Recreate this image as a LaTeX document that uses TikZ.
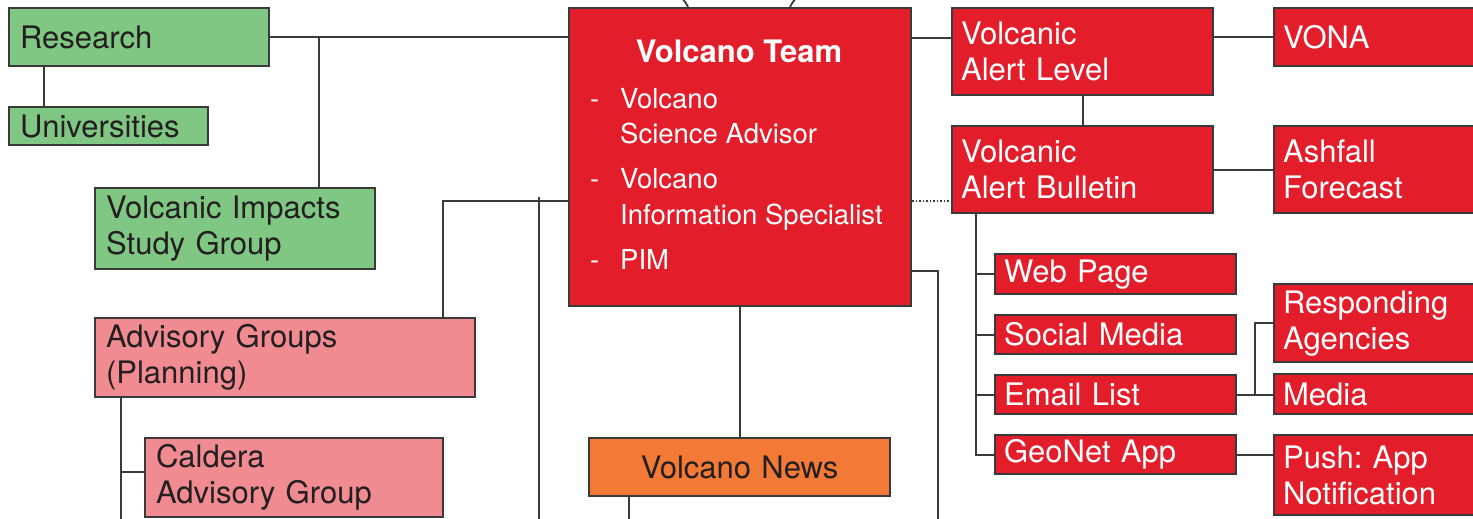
\documentclass[tikz,border=0pt]{standalone}
\usepackage{fontspec}
\setmainfont{TeX Gyre Heros}
\frenchspacing
\definecolor{edgeC}{HTML}{3A3A3A}
\definecolor{inkC}{HTML}{231F20}
\definecolor{grnC}{HTML}{80C783}
\definecolor{redC}{HTML}{E31E2A}
\definecolor{pinkC}{HTML}{F08B92}
\definecolor{orgC}{HTML}{F37A36}
\newcommand{\lbl}{\fontsize{31}{36}\selectfont}
\newcommand{\itm}{\fontsize{27.5}{35}\selectfont}
\begin{document}
\begin{tikzpicture}[x=1pt,y=-1pt,
  unit/.style={draw=edgeC, line width=2.2pt, anchor=north west, inner ysep=0pt,
    inner xsep=11pt, align=left, font=\lbl},
  greenbox/.style={unit, fill=grnC, text=inkC},
  pinkbox/.style={unit, fill=pinkC, text=inkC},
  orangebox/.style={unit, fill=orgC, text=inkC, align=center},
  redbox/.style={unit, fill=redC, text=white, inner xsep=9pt},
  link/.style={draw=edgeC, line width=1.8pt},
  dotlink/.style={draw=edgeC, line width=1.5pt, dotted}]
\useasboundingbox (0,0) rectangle (1473,519);
\clip (0,0) rectangle (1473,519);

% ---- research side ----
\node[greenbox, text width=238pt, minimum height=58pt] (research) at (8,7) {Research};
\node[greenbox, text width=177pt, minimum height=38pt] (univ) at (8,106) {Universities};
\node[greenbox, text width=258pt, minimum height=81pt] (impacts) at (94,187) {Volcanic Impacts\\Study Group};

% ---- advisory groups ----
\node[pinkbox, text width=358pt, minimum height=79pt] (advisory) at (94,317) {Advisory Groups\\(Planning)};
\node[pinkbox, text width=276pt, minimum height=79pt] (caldera) at (144,437) {Caldera\\Advisory Group};

% ---- central team ----
\node[unit, fill=redC, minimum width=342pt, minimum height=298pt] (team) at (568,7) {};
\node[anchor=base, text=white, font=\fontsize{31}{36}\selectfont\bfseries] (teamtitle) at (739,63) {Volcano Team};
\begin{scope}[every node/.style={anchor=base west, text=white, font=\itm, inner sep=0pt}]
  \node (d1) at (590,108) {-};
  \node (t1a) at (620,108) {Volcano};
  \node (t1b) at (620,143) {Science Advisor};
  \node (d2) at (590,188) {-};
  \node (t2a) at (620,188) {Volcano};
  \node (t2b) at (620,224) {Information Specialist};
  \node (d3) at (590,269) {-};
  \node (t3) at (620,269) {PIM};
\end{scope}
\node[orangebox, text width=279pt, minimum height=58pt] (news) at (588,437) {Volcano News};

% ---- alert products ----
\node[redbox, text width=243pt, minimum height=87pt] (level) at (951,7) {Volcanic\\Alert Level};
\node[redbox, text width=243pt, minimum height=87pt] (bulletin) at (951,125) {Volcanic\\Alert Bulletin};
\node[redbox, text width=202pt, minimum height=58pt] (vona) at (1273,7) {VONA};
\node[redbox, text width=202pt, minimum height=87pt] (ashfall) at (1273,125) {Ashfall\\Forecast};

% ---- channels ----
\node[redbox, text width=223pt, minimum height=40pt] (web) at (994,253) {Web Page};
\node[redbox, text width=223pt, minimum height=39pt] (social) at (994,314) {Social Media};
\node[redbox, text width=223pt, minimum height=39pt] (email) at (994,374) {Email List};
\node[redbox, text width=223pt, minimum height=39pt] (geonet) at (994,434) {GeoNet App};
\node[redbox, text width=202pt, minimum height=78pt] (responding) at (1273,283) {Responding\\Agencies};
\node[redbox, text width=202pt, minimum height=40pt] (media) at (1273,373) {Media};
\node[redbox, text width=202pt, minimum height=80pt] (push) at (1273,434) {Push: App\\Notification};

% ---- junction and free-end points ----
\coordinate (rj) at (319,37);
\coordinate (uj) at (44,0);
\coordinate (aj) at (443,201);
\coordinate (xtop) at (539,197);
\coordinate (xbot) at (539,522);
\coordinate (cj) at (121,472);
\coordinate (cbot) at (121,522);
\coordinate (nbot) at (629,522);
\coordinate (tj) at (938,271);
\coordinate (tbot) at (938,522);
\coordinate (lv) at (0,38);
\coordinate (dl) at (0,201);
\coordinate (bj) at (976,0);
\coordinate (ej) at (1255,0);
\coordinate (arcL) at (681,-3);
\coordinate (arcR) at (797,-3);

% ---- connectors ----
\draw[link] (research.east |- rj) -- (rj -| team.west);
\draw[link] (rj) -- (rj |- impacts.north);
\draw[link] (uj |- research.south) -- (uj |- univ.north);
\draw[link] (aj |- advisory.north) -- (aj) -- (aj -| team.west);
\draw[link] (xtop) -- (xbot);
\draw[link] (cj |- advisory.south) -- (cbot);
\draw[link] (cj) -- (cj -| caldera.west);
\draw[link] (team.south) -- (team.south |- news.north);
\draw[link] (nbot |- news.south) -- (nbot);
\draw[link] (tj -| team.east) -- (tj) -- (tbot);
\draw[link] (team.east |- lv) -- (level.west |- lv);
\draw[dotlink] (team.east |- dl) -- (bulletin.west |- dl);
\draw[link] (level.south) -- (level.south |- bulletin.north);
\draw[link] (level.east |- vona.west) -- (vona.west);
\draw[link] (bulletin.east) -- (ashfall.west);
\draw[link] (bj |- bulletin.south) -- (bj |- geonet.west) -- (geonet.west);
\draw[link] (bj |- web.west) -- (web.west);
\draw[link] (bj |- social.west) -- (social.west);
\draw[link] (bj |- email.west) -- (email.west);
\draw[link] (email.east) -- (ej |- email.east) -- (ej |- responding.west) -- (responding.west);
\draw[link] (ej |- email.east) -- (media.west |- email.east);
\draw[link] (geonet.east) -- (geonet.east -| push.west);
\draw[link] (arcL) .. controls (686,3) .. (688,7);
\draw[link] (arcR) .. controls (792,3) .. (790,7);
\end{tikzpicture}
\end{document}
